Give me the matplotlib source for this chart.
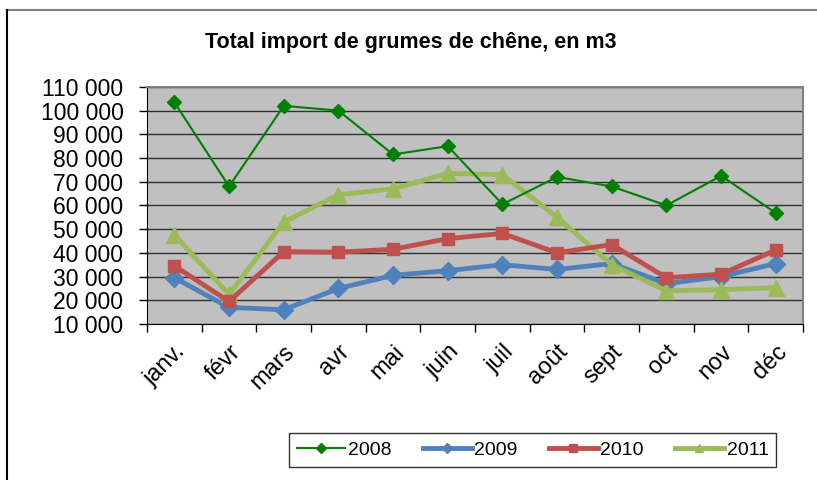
import numpy as np
import matplotlib.pyplot as plt
from matplotlib.ticker import FuncFormatter, FixedLocator
from matplotlib.lines import Line2D

plt.rcParams['font.family'] = ['Liberation Sans', 'DejaVu Sans']

# Months and yearly series (m3)
months = ['janv.', 'févr', 'mars', 'avr', 'mai', 'juin', 'juil', 'août', 'sept', 'oct', 'nov', 'déc']
y2008 = [103500, 68000, 102000, 100000, 81500, 85000, 60500, 72000, 68000, 60000, 72500, 56800]
y2009 = [29500, 17000, 16000, 25000, 30500, 32500, 35000, 33000, 35500, 27000, 30000, 35500]
y2010 = [34500, 19500, 40500, 40300, 41500, 46000, 48200, 40000, 43500, 29500, 31000, 41200]
y2011 = [47500, 22500, 53000, 64500, 67000, 73500, 73000, 55000, 35000, 24000, 24500, 25300]

fig = plt.figure(figsize=(8.17, 4.80), dpi=100)
ax = fig.add_axes([0.180, 0.325, 0.803, 0.494])
ax.set_facecolor('#C0C0C0')

x = np.arange(len(months))
ax.plot(x, y2011, color='#9BBB59', lw=3.5, marker='^', ms=11, label='2011', zorder=3)
ax.plot(x, y2010, color='#C0504D', lw=3.5, marker='s', ms=9, label='2010', zorder=4)
ax.plot(x, y2009, color='#4F81BD', lw=3.5, marker='D', ms=9, label='2009', zorder=2)
ax.plot(x, y2008, color='#008000', lw=1.5, marker='D', ms=7, label='2008', zorder=5)

ax.set_xlim(-0.5, 11.5)
ax.set_ylim(10000, 110000)
ax.set_yticks(np.arange(10000, 110001, 10000))
ax.yaxis.set_major_formatter(FuncFormatter(lambda v, p: f"{v:,.0f}".replace(",", " ")))
ax.tick_params(axis='y', labelsize=16.5, direction='out', length=6, width=1, pad=11)
ax.grid(axis='y', color='#303030', lw=1)
ax.set_axisbelow(True)

# category boundaries as ticks, labels at centers
ax.xaxis.set_major_locator(FixedLocator(np.arange(-0.5, 12, 1)))
ax.xaxis.set_minor_locator(FixedLocator(x))
ax.set_xticklabels([], minor=False)
ax.set_xticklabels(months, minor=True, rotation=45, ha='right', rotation_mode='anchor', fontsize=17)
ax.tick_params(axis='x', which='major', direction='out', length=6, width=1)
ax.tick_params(axis='x', which='minor', length=0, pad=12)

for s in ['top', 'right']:
    ax.spines[s].set_color('#808080')
    ax.spines[s].set_linewidth(1.5)
for s in ['left', 'bottom']:
    ax.spines[s].set_color('black')

fig.text(0.503, 0.912, 'Total import de grumes de chêne, en m3', ha='center', va='center',
         fontsize=15.5, fontweight='bold')

handles = [
    Line2D([], [], color='#008000', lw=1.5, marker='D', ms=5),
    Line2D([], [], color='#4F81BD', lw=3.5, marker='D', ms=5),
    Line2D([], [], color='#C0504D', lw=3.5, marker='s', ms=6),
    Line2D([], [], color='#9BBB59', lw=3.5, marker='^', ms=6),
]
leg = fig.legend(handles, ['2008', '2009', '2010', '2011'], ncol=4, loc='center',
                 bbox_to_anchor=(0.652, 0.0625), fontsize=14, frameon=True, fancybox=False,
                 handlelength=2.5, handletextpad=0.15, columnspacing=1.6, borderpad=0.4,
                 borderaxespad=0)
leg.get_frame().set_edgecolor('black')
leg.get_frame().set_linewidth(1)

# chart frame (top and left edges)
fig.add_artist(Line2D([7/817, 1], [1 - 10/480, 1 - 10/480], color='#808080', lw=1.5))
fig.add_artist(Line2D([7/817, 7/817], [0, 1 - 10/480], color='black', lw=1.5))

plt.savefig('out.png', dpi=100)
